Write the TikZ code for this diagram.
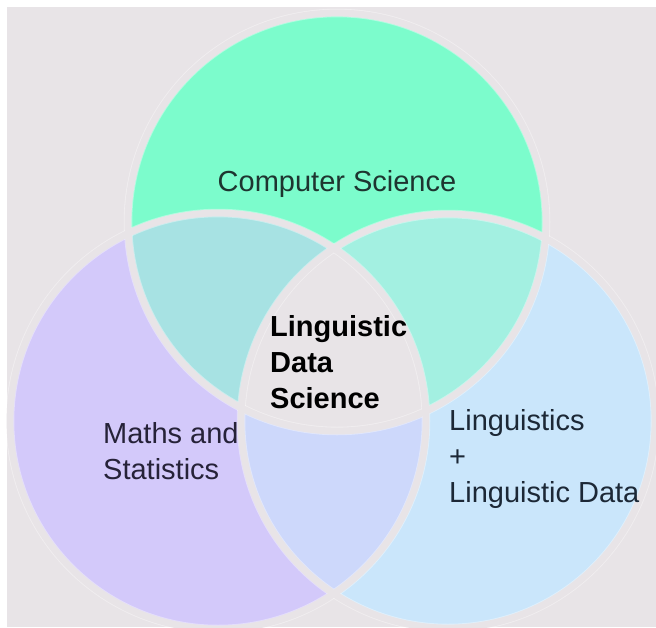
\documentclass[tikz,border=0pt]{standalone}
\usepackage{fontspec}
\setmainfont{Liberation Sans}
\definecolor{bg}{HTML}{E8E4E7}
\definecolor{csfill}{HTML}{7CFCCC}
\definecolor{msfill}{HTML}{D3C9FA}
\definecolor{ldfill}{HTML}{CAE6FB}
\definecolor{csmsfill}{HTML}{A7E2E3}
\definecolor{csldfill}{HTML}{A3F0E1}
\definecolor{msldfill}{HTML}{CDD8FB}
\definecolor{cstext}{HTML}{1E3530}
\definecolor{mstext}{HTML}{262238}
\definecolor{ldtext}{HTML}{1C2836}
\begin{document}
\begin{tikzpicture}[x=1pt,y=-1pt,
  rim/.style={draw=white, line width=8.5pt, draw opacity=0.4},
  gap/.style={draw=bg, line width=6.8pt},
  setlabel/.style={font=\fontsize{29}{36}\selectfont, inner sep=0pt, align=left}]
  % canvas with a thin white margin on the top and left
  \fill[white] (0,0) rectangle (656,627);
  \useasboundingbox (0,0) rectangle (656,627);
  \fill[bg] (7,7) rectangle (656,627);

  % circle centres and radii
  \coordinate (cs) at (337,222);
  \coordinate (ms) at (218,421);
  \coordinate (ld) at (448,421);
  \def\rcs{209pt}
  \def\rms{208pt}
  \def\rld{207pt}

  % the three sets
  \fill[csfill] (cs) circle[radius=\rcs];
  \fill[msfill] (ms) circle[radius=\rms];
  \fill[ldfill] (ld) circle[radius=\rld];

  % pairwise overlaps
  \begin{scope}
    \clip (cs) circle[radius=\rcs];
    \fill[csmsfill] (ms) circle[radius=\rms];
    \fill[csldfill] (ld) circle[radius=\rld];
  \end{scope}
  \begin{scope}
    \clip (ms) circle[radius=\rms];
    \fill[msldfill] (ld) circle[radius=\rld];
  \end{scope}
  % triple overlap
  \begin{scope}
    \clip (cs) circle[radius=\rcs];
    \clip (ms) circle[radius=\rms];
    \fill[bg] (ld) circle[radius=\rld];
  \end{scope}

  % separating rings
  \draw[rim] (cs) circle[radius=\rcs];
  \draw[rim] (ms) circle[radius=\rms];
  \draw[rim] (ld) circle[radius=\rld];
  \draw[gap] (cs) circle[radius=\rcs];
  \draw[gap] (ms) circle[radius=\rms];
  \draw[gap] (ld) circle[radius=\rld];

  % labels
  \node[setlabel, text=cstext] (cslabel) at (337,184) {Computer Science};
  \node[setlabel, text=mstext, anchor=west] (mslabel) at (103,451) {Maths and\\Statistics};
  \node[setlabel, text=ldtext, anchor=west] (ldlabel) at (449,459) {Linguistics\\+\\Linguistic Data};
  \node[setlabel, font=\fontsize{29}{36}\selectfont\bfseries, text=black, anchor=west] (lds) at (270,362) {Linguistic\\Data\\Science};
\end{tikzpicture}
\end{document}
